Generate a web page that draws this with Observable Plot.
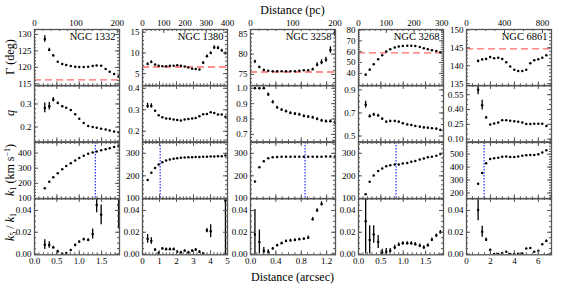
<!DOCTYPE html>
<html><head><meta charset="utf-8">
<script src="https://cdn.jsdelivr.net/npm/d3@7"></script>
<script src="https://cdn.jsdelivr.net/npm/@observablehq/plot@0.6"></script>
<style>
body{margin:0;background:#fff;}
#chart{position:relative;width:568px;height:284px;font-family:"Liberation Serif","Times New Roman","DejaVu Serif",serif;font-weight:normal;overflow:hidden;background:#fff;color:#000;}
#chart svg{position:absolute;}
#chart svg text{font-family:"Liberation Serif","Times New Roman","DejaVu Serif",serif;font-weight:normal;}
.t{position:absolute;white-space:nowrap;font-size:12px;line-height:12px;font-weight:normal;}
.yt{transform:translate(-50%,-50%) rotate(-90deg);}
.t sub{font-size:8px;vertical-align:-2px;line-height:0;}
.t sup{font-size:8px;vertical-align:4px;line-height:0;}
</style></head><body><div id="chart"></div>
<script>
// ---------- data ----------
const names = ["NGC 1332","NGC 1380","NGC 3258","NGC 3268","NGC 6861"];

const x1332 = [0.23,0.33,0.42,0.52,0.62,0.71,0.81,0.91,1.00,1.10,1.20,1.30,1.39,1.49,1.59,1.68,1.78,1.88];
const gam1332 = [128.6,125.3,123.6,121.7,121.0,120.7,120.4,120.2,120.1,120.1,120.2,120.4,120.6,120.5,119.5,118.7,118.0,117.2];
const gamErr1332 = [1.0,0.5,0.3,0,0,0,0,0,0,0,0,0,0,0,0,0,0,0.3];
const q1332 = [0.283,0.29,0.318,0.304,0.29,0.284,0.274,0.255,0.236,0.218,0.204,0.2,0.197,0.193,0.189,0.185,0.181,0.177];
const qErr1332 = [0.021,0.016,0.01,0.004,0.003,0,0,0,0,0,0,0,0,0,0,0,0,0];
const k1_1332 = [167,211,240,267,293,315,333,351,367,382,395,404,411,418,425,432,440,447];
const k51_1332 = [0.0086,0.0083,0.0061,0.0024,0.0002,0.0009,0.0037,0.0083,0.0113,0.0135,0.0129,0.0184,0.045,0.036,null,null,null,0.045];
const k51Err1332 = [0.0045,0.003,0.001,0.001,0,0,0,0.001,0.001,0.001,0.0012,0.0045,0.007,0.009,0,0,0,0.022];

const x1380 = [0.30,0.52,0.74,0.95,1.17,1.39,1.61,1.83,2.04,2.26,2.48,2.70,2.92,3.13,3.35,3.57,3.79,4.01,4.22,4.44,4.66,4.88];
const gam1380 = [7.3,7.8,7.2,6.9,6.8,6.8,6.9,6.9,7.0,6.9,6.7,6.5,6.2,6.1,6.0,7.6,9.2,10.0,11.3,11.2,10.6,9.9];
const gamErr1380 = [0.3,0.3,0,0,0,0,0,0,0,0,0,0,0,0,0,0.3,0.3,0.3,0.4,0.4,0.3,0.3];
const q1380 = [0.318,0.318,0.295,0.275,0.265,0.26,0.258,0.255,0.252,0.25,0.255,0.257,0.26,0.262,0.27,0.279,0.28,0.288,0.285,0.278,0.278,0.268];
const qErr1380 = [0.012,0.01,0,0,0,0,0,0,0,0,0,0,0,0,0,0,0,0,0,0,0,0];
const k1_1380 = [182,214,235,250,260,268,272,276,278,280,281,282,283,284,284,285,285,286,286,287,287,290];
const k51_1380 = [0.014,0.012,0.004,0.001,0.005,0.0045,0.0045,0.0045,0.002,0.0015,0.003,0.0015,0.003,0.004,0.002,0.0005,0.0215,0.021,null,null,null,0.049];
const k51Err1380 = [0.004,0.003,0.001,0.001,0.001,0.001,0.001,0.001,0.001,0.001,0.001,0.001,0.001,0.001,0.001,0.001,0.002,0.006,0,0,0,0.05];

const x3258 = [0.07,0.14,0.21,0.28,0.35,0.42,0.49,0.56,0.63,0.70,0.77,0.84,0.91,0.98,1.05,1.12,1.19,1.26,1.33];
const gam3258 = [78.2,76.8,76.1,75.9,75.8,75.8,75.8,75.8,75.8,75.8,75.9,76.0,76.0,76.3,77.4,78.0,78.6,81.0,85.4];
const gamErr3258 = [0.3,0.2,0.2,0,0,0,0,0,0,0,0,0,0,0.2,0.5,0.6,0.6,0.8,1.0];
const q3258 = [1.0,1.0,1.0,0.96,0.91,0.875,0.86,0.85,0.84,0.835,0.83,0.82,0.815,0.81,0.80,0.79,0.785,0.785,0.778];
const qErr3258 = [0.005,0.005,0.005,0.01,0.01,0.008,0.008,0.008,0.008,0.008,0.008,0.008,0.008,0.008,0.008,0.008,0.008,0.008,0.01];
const k1_3258 = [175,238,265,278,283,284,285,285,285,285,285,285,285,285,285,285,286,286,286];
const k51_3258 = [0.018,0.011,0.003,0.002,0.005,0.008,0.010,0.012,0.0125,0.013,0.0135,0.014,0.015,0.032,0.040,0.046,null,null,null];
const k51Err3258 = [0.023,0.011,0.003,0.002,0.001,0.001,0.001,0.001,0.001,0.001,0.001,0.001,0.0015,0.0015,0.0015,0.002,0,0,0];

const x3268 = [0.16,0.25,0.34,0.44,0.53,0.62,0.71,0.81,0.90,0.99,1.09,1.18,1.27,1.37,1.46,1.55,1.64,1.74,1.83];
const gam3268 = [38.7,43.3,48.5,53.1,56.8,60.1,62.3,63.8,64.7,65.3,65.6,65.6,65.3,64.4,63.2,62.3,61.4,60.7,59.6];
const gamErr3268 = [0.8,0.6,0.4,0,0,0,0,0,0,0,0,0,0,0,0,0,0,0,0];
const q3268 = [0.772,0.672,0.686,0.678,0.65,0.624,0.63,0.63,0.624,0.61,0.60,0.595,0.586,0.581,0.575,0.572,0.567,0.564,0.552];
const qErr3268 = [0.03,0.012,0.012,0.01,0.006,0.006,0.006,0.006,0.006,0.006,0.006,0.006,0.006,0.006,0.006,0.006,0.006,0.006,0.006];
const k1_3268 = [118,174,201,221,232,242,247,250,250,255,257,262,266,273,277,282,285,289,297];
const k51_3268 = [0.03,0.013,0.018,0.011,0.0015,0.002,0.003,0.006,0.0086,0.0098,0.0098,0.0098,0.009,0.0077,0.006,0.008,0.0132,0.017,0.02];
const k51Err3268 = [0.03,0.013,0.008,0.006,0.003,0.003,0.002,0.002,0.0015,0.0015,0.0015,0.0015,0.0015,0.0015,0.0015,0.0015,0.0015,0.0015,0.0015];

const x6861 = [0.97,1.31,1.64,1.98,2.31,2.65,2.98,3.32,3.65,3.99,4.32,4.66,4.99,5.33,5.66,6.0,6.33,6.67];
const gam6861 = [141.3,141.75,141.9,142.4,142.1,142.2,141.9,141.0,139.8,138.9,138.5,138.5,138.9,140.7,141.5,141.8,142.2,142.9];
const gamErr6861 = [0.3,0.2,0.2,0,0,0,0,0,0,0,0,0,0,0,0,0,0,0];
const q6861 = [0.6,0.444,0.32,0.249,0.259,0.269,0.292,0.292,0.285,0.282,0.275,0.269,0.252,0.252,0.255,0.255,0.255,0.232];
const qErr6861 = [0.05,0.05,0.008,0,0,0,0,0,0,0,0,0,0,0,0,0,0,0];
const k1_6861 = [272,355,430,462,468,473,480,481,478,478,482,487,492,493,494,500,512,530];
const k51_6861 = [0.0405,0.0205,0.0132,0.0037,0.0,0.0,0.001,0.002,0.0,0.0,0.0003,0.0006,0.005,0.0055,0.002,0.003,0.009,0.012];
const k51Err6861 = [0.01,0.005,0.0015,0.001,0,0,0,0,0,0,0,0,0,0,0,0,0,0.001];

// reference lines
const gammaRef = [116.2, 6.6, 75.6, 59, 144.7];
const radiusMark = [1.36, 1.04, 0.86, 0.84, 1.47];

// axes / tick labels
const xMax = [1.9, 5.0, 1.34, 1.9, 7.1];
const pcPerArcsec = [108, 80, 150, 161, 126];
const pcTicks = [[0,100,200],[0,100,200,300,400],[0,100,200],[0,100,200,300],[0,400,800]];
const pcMinor = [20,20,20,20,100];
const arcTicks = [[0,0.5,1,1.5],[0,1,2,3,4,5],[0,0.4,0.8,1.2],[0,0.5,1,1.5],[0,2,4,6]];
const arcMinor = [0.1,0.2,0.1,0.1,0.5];
const arcDec = [1,0,1,1,0];

const gammaDomain = [[114.4,131.5],[2.07,15.65],[72.2,86.06],[28.5,80.5],[134.4,150.1]];
const gammaTicks = [[115,120,125,130],[5,10,15],[75,80,85],[40,50,60,70,80],[135,140,145,150]];
const gammaMinor = [1,1,1,2,1];
const qDomain = [[0.136,0.38],[0.151,0.413],[0.652,1.018],[0.45,0.938],[0.073,0.643]];
const qTicks = [[0.2,0.3],[0.2,0.3,0.4],[0.7,0.8,0.9,1.0],[0.5,0.7,0.9],[0.10,0.25,0.40,0.55]];
const qMinor = [0.02,0.02,0.02,0.05,0.05];
const qDec = [1,1,1,1,2];
const k1Domain = [[98,470],[98,348],[98,348],[98,348],[155,590]];
const k1Ticks = [[100,200,300,400],[100,200,300],[100,200,300],[100,200,300],[200,300,400,500]];
const k1Minor = [20,20,20,20,20];
const k51Domain = [-0.0007,0.051];
const k51Ticks = [0,0.02,0.04];
const k51Minor = 0.005;

// ---------- build ----------
const xs = [x1332,x1380,x3258,x3268,x6861];
const series = [
  [[gam1332,gamErr1332],[q1332,qErr1332],[k1_1332,null],[k51_1332,k51Err1332]],
  [[gam1380,gamErr1380],[q1380,qErr1380],[k1_1380,null],[k51_1380,k51Err1380]],
  [[gam3258,gamErr3258],[q3258,qErr3258],[k1_3258,null],[k51_3258,k51Err3258]],
  [[gam3268,gamErr3268],[q3268,qErr3268],[k1_3268,null],[k51_3268,k51Err3268]],
  [[gam6861,gamErr6861],[q6861,qErr6861],[k1_6861,null],[k51_6861,k51Err6861]]
];
const rowCfg = [
  c => ({domain: gammaDomain[c], ticks: gammaTicks[c], minor: gammaMinor[c], fmt: d => d.toFixed(0)}),
  c => ({domain: qDomain[c], ticks: qTicks[c], minor: qMinor[c], fmt: d => d.toFixed(qDec[c])}),
  c => ({domain: k1Domain[c], ticks: k1Ticks[c], minor: k1Minor[c], fmt: d => d.toFixed(0)}),
  c => ({domain: k51Domain, ticks: k51Ticks, minor: k51Minor, fmt: d => d.toFixed(2)})
];

const lefts = [34, 142, 250, 358, 465.5];
const tops = [29, 85.3, 141.6, 197.9];
const W = 85, H = 56.3;
const mL = 30, mR = 6, mT = 16, mB = 18;
const FRAME = "#555";
const FONT = "'Liberation Serif', 'Times New Roman', 'DejaVu Serif', serif";

function steps(lo, hi, step){
  const a = Math.ceil(lo/step - 1e-9), b = Math.floor(hi/step + 1e-9);
  return d3.range(a, b + 1).map(i => +(i*step).toFixed(6));
}

const chart = document.getElementById("chart");

for (let c = 0; c < 5; c++) {
  for (let r = 0; r < 4; r++) {
    const cfg = rowCfg[r](c);
    const [vals, errs] = series[c][r];
    const data = xs[c].map((x, i) => ({x, y: vals[i], e: errs ? errs[i] : 0})).filter(d => d.y != null);
    const xdom = [0, xMax[c]];
    const xMajor = arcTicks[c], xMin = steps(0, xMax[c], arcMinor[c]);
    const yMajor = cfg.ticks, yMin = steps(cfg.domain[0], cfg.domain[1], cfg.minor);
    const marks = [];
    if (r === 0) marks.push(Plot.ruleY([gammaRef[c]], {stroke: "#ff5a5a", strokeWidth: 1.3, strokeDasharray: "7,4", strokeOpacity: 0.9}));
    if (r === 2) marks.push(Plot.ruleX([radiusMark[c]], {stroke: "#2a2aff", strokeWidth: 1.2, strokeDasharray: "1.4,1.6"}));
    marks.push(Plot.ruleX(data.filter(d => d.e > 0), {x: "x", y1: d => d.y - d.e, y2: d => d.y + d.e, stroke: "#000", strokeWidth: 1.3, clip: true}));
    marks.push(Plot.dot(data, {x: "x", y: "y", r: 1.25, fill: "#000", stroke: null, clip: true}));
    const tk = "#555";
    marks.push(Plot.tickY(yMajor, {y: d => d, insetRight: W - 4, stroke: tk}));
    marks.push(Plot.tickY(yMin, {y: d => d, insetRight: W - 2, stroke: tk}));
    marks.push(Plot.tickY(yMajor, {y: d => d, insetLeft: W - 4, stroke: tk}));
    marks.push(Plot.tickY(yMin, {y: d => d, insetLeft: W - 2, stroke: tk}));
    marks.push(Plot.tickX(xMajor, {x: d => d, insetTop: H - 4, stroke: tk}));
    marks.push(Plot.tickX(xMin, {x: d => d, insetTop: H - 2, stroke: tk}));
    if (r === 0) {
      const s = pcPerArcsec[c];
      const pcMaj = pcTicks[c].map(p => p / s);
      const pcMin = steps(0, xMax[c] * s, pcMinor[c]).map(p => p / s);
      marks.push(Plot.tickX(pcMaj, {x: d => d, insetBottom: H - 4, stroke: tk}));
      marks.push(Plot.tickX(pcMin, {x: d => d, insetBottom: H - 2, stroke: tk}));
      marks.push(Plot.axisX({anchor: "top", ticks: pcMaj, tickSize: 0, tickPadding: 3, tickFormat: d => String(Math.round(d * s)), label: null, fontFamily: FONT}));
      marks.push(Plot.text([names[c]], {frameAnchor: "top-right", dx: -4, dy: 3, textAnchor: "end", lineAnchor: "top", fontSize: 10.5, fontFamily: FONT}));
    } else {
      marks.push(Plot.tickX(xMajor, {x: d => d, insetBottom: H - 4, stroke: tk}));
      marks.push(Plot.tickX(xMin, {x: d => d, insetBottom: H - 2, stroke: tk}));
    }
    if (r === 3) {
      marks.push(Plot.axisX({anchor: "bottom", ticks: xMajor, tickSize: 0, tickPadding: 3, tickFormat: d => d.toFixed(arcDec[c]), label: null, fontFamily: FONT}));
    }
    marks.push(Plot.axisY({anchor: "left", ticks: yMajor, tickSize: 0, tickPadding: 3, tickFormat: cfg.fmt, label: null, fontFamily: FONT}));
    marks.push(Plot.frame({stroke: FRAME, strokeWidth: 1.3}));

    const svg = Plot.plot({
      width: W + mL + mR, height: H + mT + mB,
      marginLeft: mL, marginRight: mR, marginTop: mT, marginBottom: mB,
      x: {domain: xdom, axis: null},
      y: {domain: cfg.domain, axis: null},
      style: {background: "transparent", overflow: "visible", fontFamily: FONT, fontSize: "9px", color: "#000"},
      marks
    });
    svg.style.position = "absolute";
    svg.style.left = (lefts[c] - mL) + "px";
    svg.style.top = (tops[r] - mT) + "px";
    chart.appendChild(svg);
  }
}

function addText(html, x, y, cls){
  const d = document.createElement("div");
  d.className = "t " + (cls || "");
  d.innerHTML = html;
  d.style.left = x + "px"; d.style.top = y + "px";
  if (!cls) d.style.transform = "translate(-50%,-50%)";
  chart.appendChild(d);
}
addText("Distance (pc)", 292.5, 10);
addText("Distance (arcsec)", 292.5, 277);
addText("&Gamma; (deg)", 10, 57, "yt");
addText("<i>q</i>", 10, 113, "yt");
addText("<i>k</i><sub>1</sub> (km s<sup>&minus;1</sup>)", 10, 170, "yt");
addText("<i>k</i><sub>5</sub> / <i>k</i><sub>1</sub>", 10, 227, "yt");
</script></body></html>
